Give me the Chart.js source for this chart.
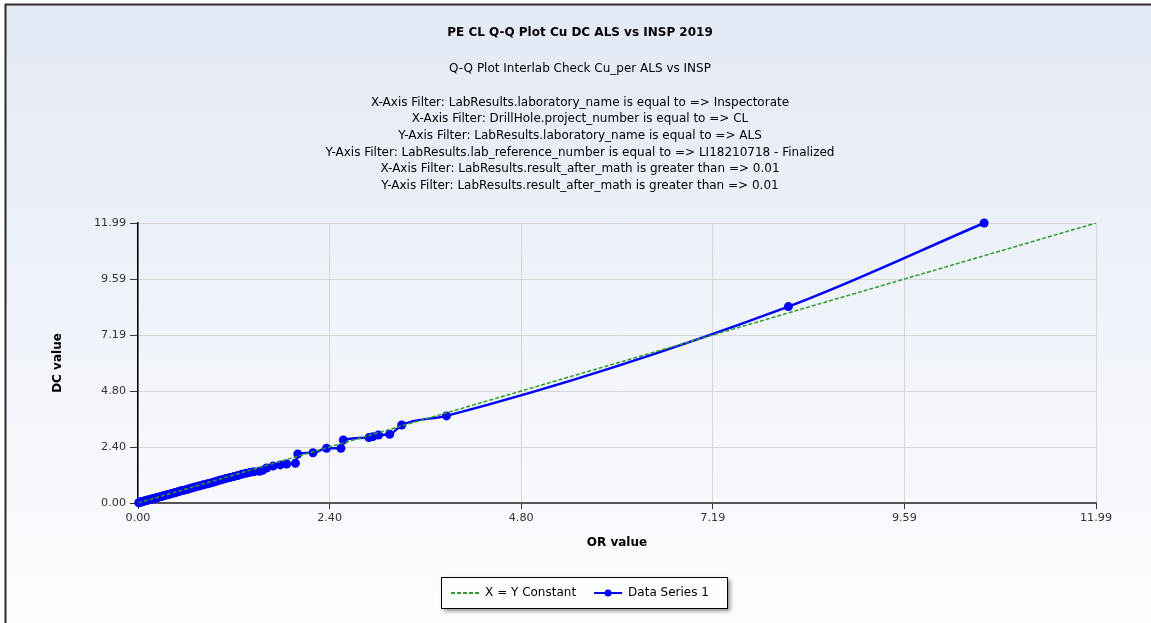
<!DOCTYPE html>
<html>
<head>
<meta charset="utf-8">
<title>PE CL Q-Q Plot Cu DC ALS vs INSP 2019</title>
<script src="https://cdn.jsdelivr.net/npm/chart.js@4.4.1/dist/chart.umd.min.js"></script>
<style>
  html, body { margin: 0; padding: 0; background: #fff; }
  canvas { display: block; }
</style>
</head>
<body>
<canvas id="qqChart" width="1151" height="623"></canvas>
<script>
// OR (x) and DC (y) quantiles
const orValues = [
  0.01, 0.02, 0.03, 0.04, 0.05, 0.06, 0.08, 0.09, 0.11, 0.12,
  0.14, 0.16, 0.17, 0.19, 0.21, 0.23, 0.25, 0.27, 0.29, 0.31,
  0.33, 0.35, 0.38, 0.40, 0.42, 0.45, 0.47, 0.50, 0.52, 0.55,
  0.58, 0.61, 0.64, 0.67, 0.70, 0.73, 0.76, 0.80, 0.83, 0.87,
  0.90, 0.94, 0.98, 1.02, 1.06, 1.10, 1.15, 1.20, 1.25, 1.30,
  1.35, 1.40, 1.45, 1.52, 1.56, 1.61, 1.69, 1.78, 1.86, 1.97,
  2.00, 2.19, 2.36, 2.54, 2.57, 2.89, 2.94, 3.01, 3.15, 3.30,
  3.86, 8.14, 10.59
];
const dcValues = [
  0.01, 0.02, 0.03, 0.05, 0.06, 0.07, 0.08, 0.10, 0.11, 0.13,
  0.14, 0.15, 0.17, 0.18, 0.20, 0.22, 0.24, 0.26, 0.28, 0.30,
  0.32, 0.34, 0.36, 0.38, 0.41, 0.43, 0.45, 0.48, 0.50, 0.53,
  0.55, 0.58, 0.61, 0.64, 0.67, 0.70, 0.73, 0.76, 0.79, 0.82,
  0.85, 0.89, 0.93, 0.97, 1.01, 1.05, 1.09, 1.13, 1.18, 1.23,
  1.27, 1.31, 1.34, 1.36, 1.40, 1.50, 1.58, 1.63, 1.67, 1.70,
  2.10, 2.15, 2.34, 2.34, 2.70, 2.80, 2.84, 2.91, 2.94, 3.34,
  3.73, 8.41, 11.99
];
const diagonalX = [0, 11.99];
const diagonalY = [0, 11.99];

const tickValues = [0, 2.398, 4.796, 7.194, 9.592, 11.99];
const tickLabels = ["0.00", "2.40", "4.80", "7.19", "9.59", "11.99"];

const seriesNames = ["X = Y Constant", "Data Series 1"];
const chartTitle = "PE CL Q-Q Plot Cu DC ALS vs INSP 2019";
const subtitleLines = [
  "Q-Q Plot Interlab Check Cu_per ALS vs INSP",
  "",
  "X-Axis Filter: LabResults.laboratory_name is equal to => Inspectorate",
  "X-Axis Filter: DrillHole.project_number is equal to => CL",
  "Y-Axis Filter: LabResults.laboratory_name is equal to => ALS",
  "Y-Axis Filter: LabResults.lab_reference_number is equal to => LI18210718 - Finalized",
  "X-Axis Filter: LabResults.result_after_math is greater than => 0.01",
  "Y-Axis Filter: LabResults.result_after_math is greater than => 0.01"
];

Chart.defaults.font.family = "'DejaVu Sans', Verdana, sans-serif";

// panel background, frame and the boxed legend
const panelPlugin = {
  id: "panel",
  beforeDraw(chart) {
    const ctx = chart.ctx;
    const w = chart.width, h = chart.height;
    ctx.save();
    const grad = ctx.createLinearGradient(0, 5, 0, h);
    grad.addColorStop(0, "#e3e9f5");
    grad.addColorStop(1, "#fdfdfe");
    ctx.fillStyle = grad;
    ctx.fillRect(5, 5, w, h);
    ctx.strokeStyle = "#2b2b2b";
    ctx.lineWidth = 2;
    ctx.beginPath();
    ctx.moveTo(5.5, h);
    ctx.lineTo(5.5, 4.5);
    ctx.lineTo(w, 4.5);
    ctx.stroke();

    const hb = chart.legend && chart.legend.legendHitBoxes;
    if (hb && hb.length) {
      const first = hb[0], last = hb[hb.length - 1];
      const x0 = Math.round(first.left - 10), x1 = Math.round(last.left + last.width + 18);
      const y0 = Math.round(first.top - 10), y1 = Math.round(first.top + first.height + 9);
      ctx.shadowColor = "rgba(0,0,0,0.45)";
      ctx.shadowBlur = 4;
      ctx.shadowOffsetX = 3;
      ctx.shadowOffsetY = 3;
      ctx.fillStyle = "#fdfeff";
      ctx.fillRect(x0, y0, x1 - x0, y1 - y0);
      ctx.shadowColor = "transparent";
      ctx.strokeStyle = "#000";
      ctx.lineWidth = 1;
      ctx.strokeRect(x0 + 0.5, y0 + 0.5, x1 - x0, y1 - y0);
    }
    ctx.restore();
  },
  afterDraw(chart) {
    // marker dot on the data series legend line
    const hb = chart.legend && chart.legend.legendHitBoxes;
    if (!hb || hb.length < 2) return;
    const ctx = chart.ctx;
    ctx.save();
    ctx.fillStyle = "#0000ff";
    ctx.beginPath();
    ctx.arc(hb[1].left + 14, hb[1].top + hb[1].height / 2, 3.5, 0, Math.PI * 2);
    ctx.fill();
    ctx.restore();
  }
};

const ctx = document.getElementById("qqChart").getContext("2d");

new Chart(ctx, {
  type: "scatter",
  data: {
    datasets: [
      {
        label: seriesNames[0],
        data: diagonalX.map((x, i) => ({ x: x, y: diagonalY[i] })),
        showLine: true,
        borderColor: "#2f9a2f",
        backgroundColor: "#2f9a2f",
        borderWidth: 1.5,
        borderDash: [4, 2],
        pointRadius: 0,
      },
      {
        label: seriesNames[1],
        data: orValues.map((x, i) => ({ x: x, y: dcValues[i] })),
        showLine: true,
        borderColor: "#0000ff",
        backgroundColor: "#0000ff",
        borderWidth: 2.5,
        pointRadius: 4.5,
        pointBorderWidth: 0,
        pointBackgroundColor: "#0000ff",
        cubicInterpolationMode: "monotone",
        clip: false,
      },
    ],
  },
  options: {
    responsive: false,
    animation: false,
    devicePixelRatio: 1,
    layout: {
      padding: { left: 64, right: 55, top: 0, bottom: 14 },
    },
    plugins: {
      title: {
        display: true,
        text: chartTitle,
        color: "#000",
        font: { size: 12, weight: "bold", lineHeight: 1.3 },
        padding: { top: 25.5, bottom: 19.9 },
      },
      subtitle: {
        display: true,
        text: subtitleLines,
        color: "#000",
        font: { size: 12, lineHeight: 16.64 / 12 },
        padding: { top: 0, bottom: 28.9 },
      },
      legend: {
        position: "bottom",
        labels: {
          usePointStyle: true,
          pointStyleWidth: 28,
          padding: 18,
          color: "#000",
          font: { size: 12, lineHeight: 1 },
          generateLabels: (chart) =>
            chart.data.datasets.map((ds, i) => ({
              text: ds.label,
              strokeStyle: ds.borderColor,
              fillStyle: ds.borderColor,
              fontColor: "#000",
              lineWidth: 2,
              lineDash: ds.borderDash || [],
              pointStyle: "line",
              hidden: false,
              datasetIndex: i,
            })),
        },
      },
      tooltip: { enabled: false },
    },
    scales: {
      x: {
        type: "linear",
        min: 0,
        max: 11.99,
        afterBuildTicks: (scale) => {
          scale.ticks = tickValues.map((v) => ({ value: v }));
        },
        ticks: {
          callback: (value, index) => tickLabels[index],
          color: "#333",
          font: { size: 11.2, lineHeight: 14.4 / 11.2 },
          padding: 2,
          maxRotation: 0,
          autoSkip: false,
        },
        grid: { color: "#d6d6d6", tickColor: "#333", tickLength: 6 },
        border: { color: "#555", width: 2 },
        title: {
          display: true,
          text: "OR value",
          color: "#000",
          font: { size: 12, weight: "bold" },
          padding: { top: 8.4, bottom: 18.8 },
        },
      },
      y: {
        type: "linear",
        min: 0,
        max: 11.99,
        afterBuildTicks: (scale) => {
          scale.ticks = tickValues.map((v) => ({ value: v }));
        },
        afterFit: (scale) => {
          scale.width = 74;
        },
        ticks: {
          callback: (value, index) => tickLabels[index],
          color: "#333",
          font: { size: 11.2 },
          padding: 4,
          autoSkip: false,
        },
        grid: { color: "#d6d6d6", tickColor: "#333", tickLength: 8 },
        border: { color: "#000", width: 1.5 },
        title: {
          display: true,
          text: "DC value",
          color: "#000",
          font: { size: 12, weight: "bold" },
          padding: { top: -13.2, bottom: 0 },
        },
      },
    },
  },
  plugins: [panelPlugin],
});
</script>
</body>
</html>
